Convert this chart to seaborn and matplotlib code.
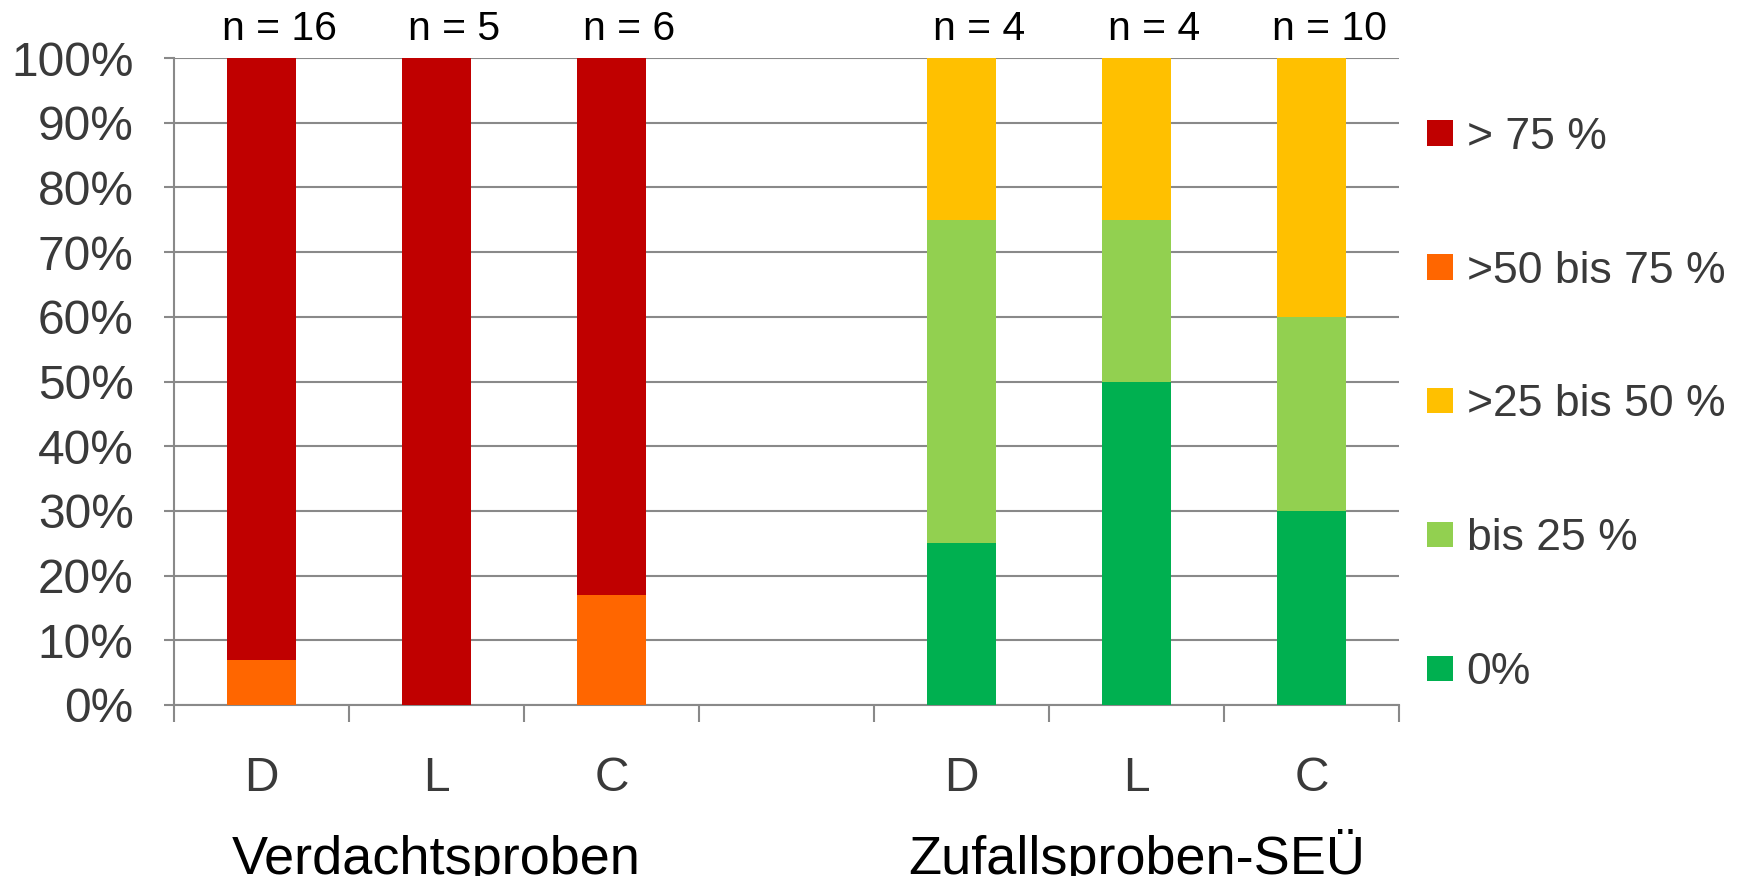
import numpy as np
import pandas as pd
import matplotlib
matplotlib.use("Agg")
import matplotlib.pyplot as plt
import matplotlib.transforms as mtransforms
from matplotlib.patches import Patch
import seaborn as sns

# ---------------- data ----------------
slots = ["V-D", "V-L", "V-C", "gap", "Z-D", "Z-L", "Z-C"]
slot_labels = ["D", "L", "C", "", "D", "L", "C"]
bars = ["V-D", "V-L", "V-C", "Z-D", "Z-L", "Z-C"]
n_values = [16, 5, 6, 4, 4, 10]

bands = ["0%", "bis 25 %", ">25 bis 50 %", ">50 bis 75 %", "> 75 %"]
band_colors = ["#00B050", "#92D050", "#FFC000", "#FF6600", "#C00000"]
share_0 = [0, 0, 0, 25, 50, 30]
share_bis25 = [0, 0, 0, 50, 25, 30]
share_25_50 = [0, 0, 0, 25, 25, 40]
share_50_75 = [7, 0, 17, 0, 0, 0]
share_gt75 = [93, 100, 83, 0, 0, 0]
shares = [share_0, share_bis25, share_25_50, share_50_75, share_gt75]

groups = ["Verdachtsproben", "Zufallsproben-SEÜ"]
group_center = ["V-L", "Z-L"]

yticks = list(range(0, 101, 10))

# ---------------- style ----------------
sns.set_theme(style="white")
plt.rcParams["font.family"] = ["Liberation Sans", "DejaVu Sans"]
grid_col = "#898989"
text_col = "#3a3a3a"

W, H = 1741, 876
fig = plt.figure(figsize=(W / 100, H / 100), dpi=100)
ax = fig.add_axes([174 / W, 1 - 705 / H, (1399 - 174) / W, (705 - 58) / H])

df = pd.DataFrame({"bar": bars})
for name, vals in zip(bands, shares):
    df[name] = vals
cum = df[bands].cumsum(axis=1)

# draw stacked bars: tallest cumulative first
for i in range(len(bands) - 1, -1, -1):
    sns.barplot(x=df["bar"], y=cum[bands[i]], order=slots, color=band_colors[i],
                saturation=1, width=0.39, errorbar=None, linewidth=0, ax=ax,
                zorder=3)

ax.set_xlim(-0.5, len(slots) - 0.5)
ax.set_ylim(0, 100)
ax.set_yticks(yticks)
ax.set_yticklabels([f"{v}%" for v in yticks])
ax.set_xticks(range(len(slots)))
ax.set_xticklabels(slot_labels)
ax.set_xticks(np.arange(-0.5, len(slots), 1.0), minor=True)
ax.set_xlabel("")
ax.set_ylabel("")

ax.set_axisbelow(True)
ax.yaxis.grid(True, color=grid_col, lw=1.5, zorder=0)
ax.xaxis.grid(False)
for s in ["top", "right"]:
    ax.spines[s].set_visible(False)
for s in ["left", "bottom"]:
    ax.spines[s].set_color(grid_col)
    ax.spines[s].set_linewidth(1.5)

ax.tick_params(axis="y", which="major", length=7, width=1.5, color=grid_col,
               pad=22, labelsize=34.5, labelcolor=text_col, left=True)
ax.tick_params(axis="x", which="major", length=0, pad=36.5, labelsize=34.5,
               labelcolor=text_col, bottom=True)
ax.tick_params(axis="x", which="minor", length=12, width=1.5, color=grid_col,
               bottom=True)

# n labels
for b, n in zip(bars, n_values):
    ax.text(slots.index(b) + 0.1, 102.8, f"n = {n}", ha="center",
            va="baseline", fontsize=29.5, color="black", clip_on=False)

# group labels
trans = mtransforms.blended_transform_factory(ax.transData, fig.transFigure)
for g, c in zip(groups, group_center):
    ax.text(slots.index(c), 1 - 874 / H, g, ha="center", va="baseline",
            fontsize=39, color="black", transform=trans, clip_on=False)

# legend
handles = [Patch(facecolor=band_colors[i], edgecolor="none", label=bands[i])
           for i in range(len(bands) - 1, -1, -1)]
fig.legend(handles=handles, loc="center left",
           bbox_to_anchor=(1427 / W, 1 - 405 / H), frameon=False,
           fontsize=32, labelcolor=text_col, borderpad=0, borderaxespad=0,
           handlelength=0.59, handleheight=0.5, handletextpad=0.3,
           labelspacing=2.09)

fig.savefig("out.png", dpi=100)
